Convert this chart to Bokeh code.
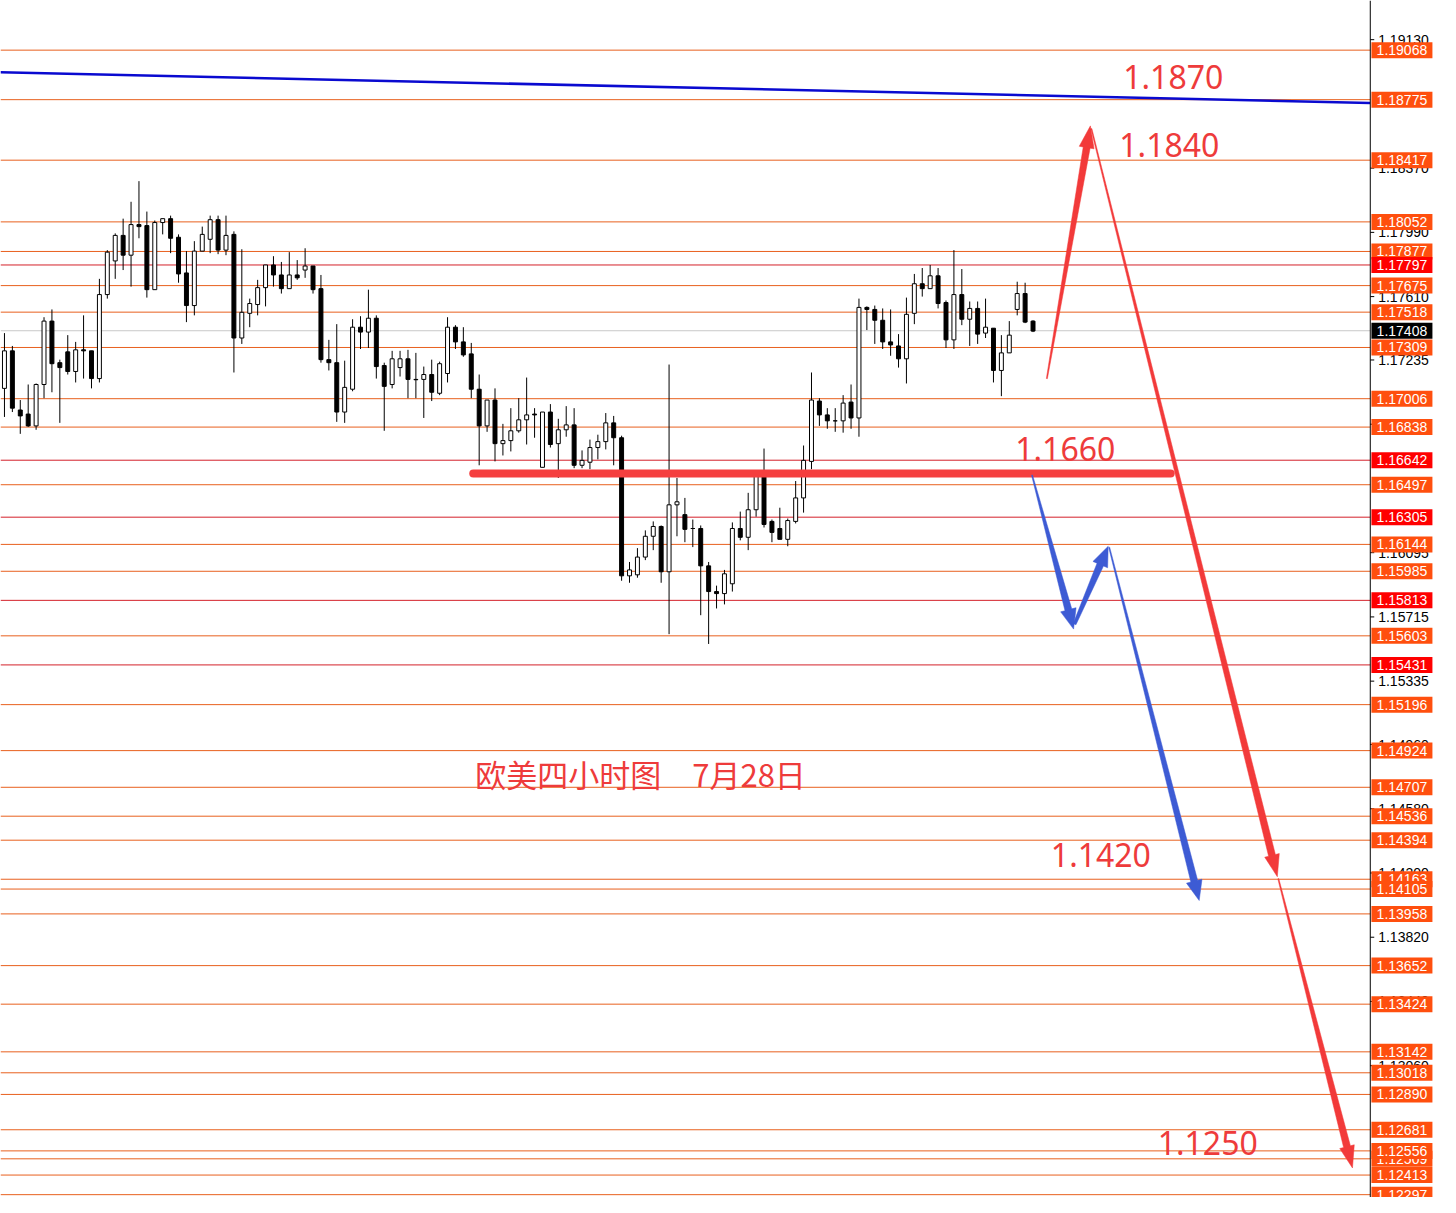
from bokeh.plotting import figure
from bokeh.models import Range1d
from bokeh.core.properties import value
from bokeh.embed import file_html
from bokeh.resources import INLINE

# ---------------- candle data (EURUSD H4) ----------------
opens = [1.17067,1.17289,1.16939,1.16915,1.16845,1.17090,1.17465,1.17219,1.17283,1.17167,
         1.17295,1.17289,1.17125,1.17622,1.17821,1.17972,1.17855,1.18036,1.18030,1.17651,
         1.18048,1.18071,1.17961,1.17750,1.17557,1.17879,1.17949,1.18065,1.17885,1.17978,
         1.17365,1.17511,1.17563,1.17663,1.17797,1.17738,1.17657,1.17738,1.17767,1.17791,
         1.17657,1.17237,1.17219,1.16927,1.17062,1.17429,1.17400,1.17482,1.17202,1.17090,
         1.17190,1.17242,1.17120,1.17120,1.17149,1.17038,1.17155,1.17429,1.17342,1.17271,
         1.17062,1.16845,1.16998,1.16740,1.16758,1.16816,1.16881,1.16915,1.16600,1.16927,
         1.16740,1.16822,1.16851,1.16612,1.16630,1.16717,1.16752,1.16863,1.16775,1.15958,
         1.15964,1.16069,1.16192,1.16250,1.15982,1.16378,1.16320,1.16238,1.16238,1.16017,
         1.15865,1.15853,1.15911,1.16238,1.16186,1.16349,1.16543,1.16280,1.16238,1.16174,
         1.16280,1.16419,1.16635,1.16992,1.16910,1.16875,1.16875,1.16986,1.16892,1.17546,
         1.17534,1.17470,1.17342,1.17318,1.17242,1.17511,1.17686,1.17657,1.17733,1.17575,
         1.17354,1.17622,1.17476,1.17540,1.17394,1.17423,1.17173,1.17277,1.17534,1.17628,
         1.17465]
highs = [1.17394,1.17318,1.16998,1.17090,1.17096,1.17488,1.17534,1.17237,1.17382,1.17342,
         1.17499,1.17289,1.17715,1.17885,1.17984,1.18071,1.18171,1.18293,1.18113,1.18060,
         1.18071,1.18089,1.17978,1.17879,1.17938,1.18024,1.18089,1.18089,1.18089,1.17996,
         1.17890,1.17598,1.17709,1.17797,1.17849,1.17815,1.17873,1.17826,1.17896,1.17791,
         1.17738,1.17354,1.17447,1.17231,1.17476,1.17494,1.17651,1.17499,1.17219,1.17289,
         1.17289,1.17295,1.17277,1.17196,1.17237,1.17225,1.17488,1.17441,1.17429,1.17336,
         1.17149,1.16998,1.17067,1.16857,1.16950,1.17009,1.17131,1.16950,1.16927,1.16974,
         1.16887,1.16962,1.16950,1.16700,1.16764,1.16793,1.16921,1.16904,1.16787,1.16040,
         1.16122,1.16227,1.16280,1.16256,1.17208,1.16537,1.16419,1.16291,1.16256,1.16040,
         1.15900,1.15993,1.16274,1.16338,1.16449,1.16572,1.16711,1.16291,1.16361,1.16297,
         1.16519,1.16729,1.17161,1.17009,1.16950,1.16950,1.17027,1.17090,1.17598,1.17552,
         1.17557,1.17540,1.17534,1.17388,1.17604,1.17744,1.17779,1.17797,1.17779,1.17587,
         1.17885,1.17773,1.17581,1.17581,1.17598,1.17423,1.17382,1.17465,1.17698,1.17692,
         1.17470]
lows = [1.16898,1.16927,1.16798,1.16839,1.16822,1.17009,1.17044,1.16863,1.17149,1.17102,
        1.17125,1.17067,1.17102,1.17598,1.17715,1.17767,1.17669,1.17955,1.17604,1.17651,
        1.17978,1.17867,1.17692,1.17459,1.17499,1.17879,1.17867,1.17861,1.17855,1.17161,
        1.17330,1.17429,1.17499,1.17552,1.17669,1.17628,1.17657,1.17709,1.17721,1.17628,
        1.17219,1.17173,1.16869,1.16863,1.17050,1.17300,1.17306,1.17125,1.16816,1.17067,
        1.17137,1.17009,1.17009,1.16892,1.16992,1.17027,1.17102,1.17300,1.17254,1.17009,
        1.16612,1.16810,1.16635,1.16670,1.16694,1.16805,1.16735,1.16775,1.16600,1.16717,
        1.16537,1.16781,1.16595,1.16595,1.16589,1.16647,1.16706,1.16612,1.15929,1.15917,
        1.15947,1.16051,1.16110,1.15917,1.15613,1.16192,1.16157,1.16128,1.15725,1.15555,
        1.15765,1.15789,1.15865,1.16168,1.16110,1.16308,1.16244,1.16157,1.16174,1.16133,
        1.16268,1.16332,1.16589,1.16845,1.16828,1.16810,1.16805,1.16828,1.16781,1.17412,
        1.17330,1.17300,1.17260,1.17190,1.17096,1.17447,1.17610,1.17657,1.17540,1.17306,
        1.17300,1.17441,1.17318,1.17330,1.17365,1.17102,1.17021,1.17277,1.17499,1.17453,
        1.17400]
closes = [1.17289,1.16950,1.16904,1.16845,1.17090,1.17465,1.17213,1.17190,1.17167,1.17295,
          1.17289,1.17125,1.17622,1.17873,1.17972,1.17855,1.18036,1.18024,1.17651,1.18048,
          1.18071,1.17955,1.17744,1.17557,1.17879,1.17978,1.18065,1.17885,1.17972,1.17365,
          1.17517,1.17569,1.17663,1.17797,1.17738,1.17657,1.17738,1.17721,1.17791,1.17651,
          1.17237,1.17219,1.16927,1.17073,1.17429,1.17400,1.17482,1.17196,1.17079,1.17242,
          1.17242,1.17120,1.17118,1.17149,1.17044,1.17213,1.17429,1.17342,1.17265,1.17062,
          1.16845,1.16998,1.16740,1.16758,1.16816,1.16881,1.16910,1.16910,1.16927,1.16735,
          1.16822,1.16851,1.16612,1.16641,1.16717,1.16752,1.16863,1.16775,1.15958,1.15993,
          1.16069,1.16192,1.16250,1.15982,1.16378,1.16396,1.16233,1.16238,1.16017,1.15865,
          1.15853,1.15970,1.16238,1.16186,1.16349,1.16548,1.16262,1.16215,1.16174,1.16285,
          1.16419,1.16641,1.16998,1.16910,1.16875,1.16875,1.16980,1.16892,1.17546,1.17534,
          1.17470,1.17342,1.17324,1.17242,1.17505,1.17686,1.17657,1.17733,1.17569,1.17354,
          1.17622,1.17476,1.17540,1.17388,1.17429,1.17173,1.17277,1.17382,1.17628,1.17459,
          1.17406]

# ---------------- horizontal levels (price labels on the right) ----------------
orange_levels = [1.19068, 1.18775, 1.18417, 1.18052, 1.17877, 1.17675, 1.17518, 1.17309,
                 1.17006, 1.16838, 1.16497, 1.16144, 1.15985, 1.15603, 1.15196, 1.14924,
                 1.14707, 1.14536, 1.14394, 1.14163, 1.14105, 1.13958, 1.13652, 1.13424,
                 1.13142, 1.13018, 1.12890, 1.12681, 1.12509, 1.12556, 1.12413, 1.12297]
red_levels = [1.17797, 1.16642, 1.16305, 1.15813, 1.15431]
current_price = 1.17408

# price-axis ticks
axis_ticks = [1.19130, 1.18370, 1.17990, 1.17610, 1.17235, 1.16855, 1.16095, 1.15715,
              1.15335, 1.14960, 1.14580, 1.14200, 1.13820, 1.13440, 1.13060]

# ---------------- annotations ----------------
trend_x = [-0.5, 172.6]
trend_y = [1.18937, 1.18756]

support_x = [59.25, 147.4]
support_y = [1.16563, 1.16563]

# (start bar, start price, tip bar, tip price)
red_arrows = [(131.75, 1.17125, 137.25, 1.18620),
              (137.375, 1.18603, 160.875, 1.14178),
              (161.0, 1.14166, 170.375, 1.12455)]
blue_arrows = [(129.875, 1.16554, 135.125, 1.15643),
               (135.25, 1.15672, 139.5, 1.16133),
               (139.625, 1.16127, 151.0, 1.14037)]

note_texts = ["1.1870", "1.1840", "1.1660", "1.1420", "1.1250"]
note_x = [141.4, 140.9, 127.75, 132.25, 145.75]
note_y = [1.18912, 1.18506, 1.16711, 1.14306, 1.12601]

title_text = "欧美四小时图　7月28日"
title_x = 59.5
title_y = 1.14790

# ---------------- figure ----------------
FIG_W, FIG_H = 1440, 1197
X0, X1 = -0.5, 181.5
Y0, Y1 = 1.122802, 1.193617
AXIS_X = 172.625

p = figure(width=FIG_W, height=FIG_H, output_backend="svg", toolbar_location=None,
           x_range=Range1d(X0, X1), y_range=Range1d(Y0, Y1),
           x_axis_location=None, y_axis_location=None, min_border=0)
p.grid.visible = False
p.outline_line_color = None
p.background_fill_color = "white"
p.border_fill_color = "white"

SX = FIG_W / (X1 - X0)
SY = FIG_H / (Y1 - Y0)

# level lines
p.segment(x0=X0, x1=AXIS_X, y0=orange_levels, y1=orange_levels,
          line_color="#E8601E", line_width=1)
p.segment(x0=X0, x1=AXIS_X, y0=red_levels, y1=red_levels,
          line_color="#D4202A", line_width=1)
p.segment(x0=X0, x1=AXIS_X, y0=[current_price], y1=[current_price],
          line_color="#C8C8C8", line_width=1)

# trend line
p.line(trend_x, trend_y, line_color="#0A0AD0", line_width=2.5)

# candles
idx = list(range(len(opens)))
p.segment(x0=idx, x1=idx, y0=lows, y1=highs, line_color="black", line_width=1)
up = [i for i in idx if closes[i] > opens[i]]
dn = [i for i in idx if closes[i] <= opens[i]]
p.vbar(x=up, width=0.5, bottom=[opens[i] for i in up], top=[closes[i] for i in up],
       fill_color="white", line_color="black", line_width=1)
p.vbar(x=dn, width=0.5, bottom=[closes[i] for i in dn], top=[opens[i] for i in dn],
       fill_color="black", line_color="black", line_width=1)

# support line
p.line(support_x, support_y, line_color="#F53F3F", line_width=8, line_cap="round")


def tapered(x0, y0, x1, y1, w0, w1, hw, hl):
    ax, ay, bx_, by_ = x0 * SX, y0 * SY, x1 * SX, y1 * SY
    dx, dy = bx_ - ax, by_ - ay
    L = (dx * dx + dy * dy) ** 0.5
    ux, uy = dx / L, dy / L
    nx, ny = -uy, ux
    cx, cy = bx_ - ux * hl, by_ - uy * hl
    pts = [(ax + nx * w0 / 2, ay + ny * w0 / 2),
           (cx + nx * w1 / 2, cy + ny * w1 / 2),
           (cx + nx * hw / 2, cy + ny * hw / 2),
           (bx_, by_),
           (cx - nx * hw / 2, cy - ny * hw / 2),
           (cx - nx * w1 / 2, cy - ny * w1 / 2),
           (ax - nx * w0 / 2, ay - ny * w0 / 2)]
    return [q[0] / SX for q in pts], [q[1] / SY for q in pts]


rxs, rys = [], []
for a in red_arrows:
    xs, ys = tapered(*a, w0=1.0, w1=7.0, hw=15.0, hl=22.0)
    rxs.append(xs); rys.append(ys)
p.patches(rxs, rys, fill_color="#F23A3A", line_color="#F23A3A", line_width=0.5)

bxs, bys = [], []
for k, a in enumerate(blue_arrows):
    xs, ys = tapered(*a, w0=(3.0 if k == 1 else 1.0), w1=7.0, hw=16.0, hl=20.0)
    bxs.append(xs); bys.append(ys)
p.patches(bxs, bys, fill_color="#3D5BD4", line_color="#3D5BD4", line_width=0.5)

# annotation texts
p.text(x=note_x, y=note_y, text=note_texts, text_color="#EE3B3B",
       text_font=value("Noto Sans"), text_font_size="32px",
       text_baseline="middle", text_align="left")
p.text(x=[title_x], y=[title_y], text=[title_text], text_color="#EE3B3B",
       text_font=value("Noto Sans CJK SC"), text_font_size="31px",
       text_baseline="middle", text_align="left")

# price axis
p.segment(x0=[AXIS_X], x1=[AXIS_X], y0=[Y0], y1=[Y1], line_color="black", line_width=1)
p.segment(x0=AXIS_X, x1=AXIS_X + 0.5, y0=axis_ticks, y1=axis_ticks,
          line_color="black", line_width=1)
p.text(x=AXIS_X + 1.0, y=axis_ticks, text=[f"{v:.5f}" for v in axis_ticks],
       text_color="black", text_font=value("Liberation Sans"), text_font_size="14px",
       text_baseline="middle", text_align="left")

LABEL_CX = AXIS_X + 4.0
LABEL_TX = AXIS_X + 0.8


def level_labels(levels, fill, txt):
    p.rect(x=LABEL_CX, y=levels, width=61, height=16, width_units="screen",
           height_units="screen", fill_color=fill, line_color=None)
    p.text(x=LABEL_TX, y=levels, text=[f"{v:.5f}" for v in levels], text_color=txt,
           text_font=value("Liberation Sans"), text_font_size="14px",
           text_baseline="middle", text_align="left")


for v in orange_levels:
    level_labels([v], "#FF4F0E", "white")
level_labels(red_levels, "#FF0000", "white")
level_labels([current_price], "black", "white")

open("out.html", "w").write(file_html(p, INLINE))
